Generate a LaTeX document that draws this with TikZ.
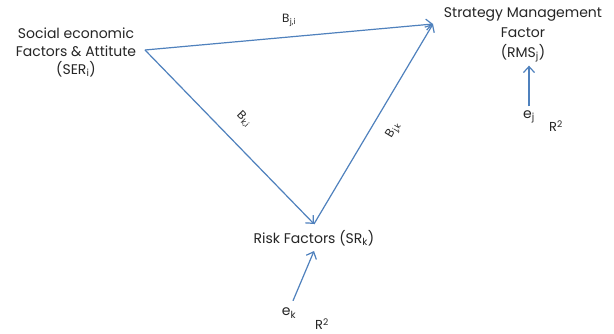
\documentclass[tikz,border=0pt]{standalone}
\usepackage{fontspec}
\setmainfont{Poppins}
\usepackage{tikz}
\usetikzlibrary{arrows.meta}
\definecolor{linkblue}{HTML}{4F81BD}
\tikzset{
  % --- Khoi chu -------------------------------------------------
  factor/.style={align=center, font=\fontsize{14}{18}\selectfont,
    text=black!85, inner sep=2pt},
  errlbl/.style={font=\fontsize{14}{16}\selectfont, text=black!85,
    inner sep=1pt},
  rsq/.style={font=\fontsize{13}{15}\selectfont, text=black!85,
    inner sep=1pt},
  coef/.style={font=\fontsize{12}{14}\selectfont, text=black!85,
    inner sep=1pt},
  % --- Mui ten ---------------------------------------------------
  arr/.style={-{Straight Barb[length=6pt, width=11pt]}, linkblue,
    line width=1.2pt}
}

\begin{document}
\begin{tikzpicture}[x=1pt, y=-1pt]
  \useasboundingbox[fill=white] (0,0) rectangle (614,334);

  % --- Cac nhan to ---------------------------------------------
  \node[factor] (SER) at (76,52) {Social economic\\Factors \& Attitute\\(SER\textsubscript{i})};
  \node[factor] (RMS) at (523,35)
    {Strategy Management\\[2pt]Factor\\[2pt](RMS\textsubscript{j})};
  \node[factor] (SR) at (314,238) {Risk Factors (SR\textsubscript{k})};

  % --- Sai so ----------------------------------------------------
  \node[errlbl] (EJ) at (529,117) {e\textsubscript{j}};
  \node[rsq] (RJ) at (556,126) {R\textsuperscript{2}};
  \node[errlbl] (EK) at (289,313) {e\textsubscript{k}};
  \node[rsq] (RK) at (322,324) {R\textsuperscript{2}};

  % --- Dinh tam giac ---------------------------------------------
  \coordinate (SERpt) at (145,50);
  \coordinate (apex) at (433,24);

  % --- Quan he -----------------------------------------------------
  \draw[arr] (SERpt) -- (apex) node[coef, pos=0.5, above=9pt] {B\kern.6pt\textsubscript{j,i}};
  \draw[arr] (SERpt) -- ([yshift=4pt]SR.north)
    node[coef, pos=0.49, sloped, above=15pt] {B\kern.6pt\textsubscript{k,i}};
  \draw[arr] ([yshift=4pt]SR.north) -- (apex)
    node[coef, pos=0.52, sloped, below=13pt] {B\kern.6pt\textsubscript{j,k}};
  \draw[arr] ([shift={(4,-6)}]EK.north) -- ([yshift=-3pt]SR.south);
  \draw[arr] ([yshift=3pt]EJ.north) -- ([yshift=-1pt]EJ.north |- RMS.south);

\end{tikzpicture}
\end{document}
